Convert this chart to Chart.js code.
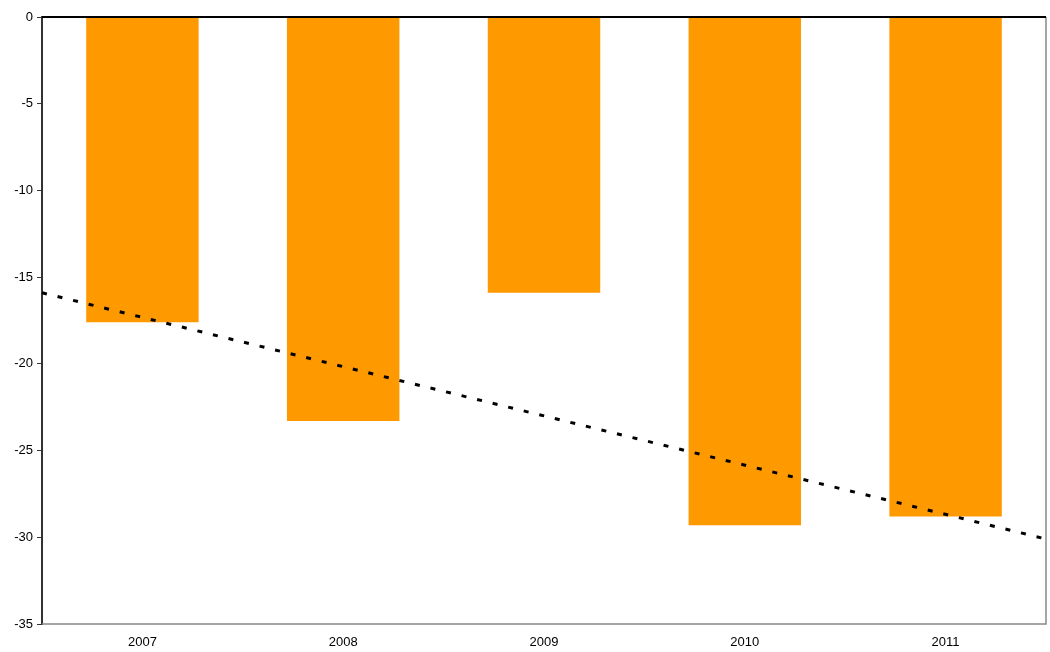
<!DOCTYPE html>
<html>
<head>
<meta charset="utf-8">
<script src="https://cdn.jsdelivr.net/npm/chart.js@4/dist/chart.umd.min.js"></script>
<style>
  html, body { margin: 0; padding: 0; background: #fff; }
  #wrap { width: 1050px; height: 652px; }
</style>
</head>
<body>
<div id="wrap"><canvas id="chart"></canvas></div>
<script>
// values
var years = ['2007', '2008', '2009', '2010', '2011'];
var values = [-17.6, -23.3, -15.9, -29.3, -28.8];
// trend line end points (left edge, right edge of the plot)
var trendX = [0.5, 5.5];
var trendY = [-15.9, -30.1];

// draws the plot frame: black zero line on top, grey right/bottom edges
var framePlugin = {
    id: 'frame',
    afterDraw: function(chart) {
        var a = chart.chartArea;
        var ctx = chart.ctx;
        ctx.save();
        ctx.strokeStyle = '#888';
        ctx.lineWidth = 1.5;
        ctx.beginPath();
        ctx.moveTo(a.right, a.top);
        ctx.lineTo(a.right, a.bottom);
        ctx.lineTo(a.left, a.bottom);
        ctx.stroke();
        ctx.strokeStyle = '#000';
        ctx.lineWidth = 2;
        ctx.beginPath();
        ctx.moveTo(a.left, a.top);
        ctx.lineTo(a.right, a.top);
        ctx.stroke();
        ctx.restore();
    }
};

document.addEventListener("DOMContentLoaded", function() {
    var ctx = document.getElementById('chart').getContext('2d');
    var trendData = trendX.map(function(x, i) { return { x: x, y: trendY[i] }; });

    new Chart(ctx, {
        type: 'bar',
        data: {
            labels: years,
            datasets: [{
                type: 'bar',
                data: values,
                backgroundColor: '#FF9900',
                borderWidth: 0,
                grouped: false,
                barPercentage: 0.56,
                categoryPercentage: 1,
                xAxisID: 'x',
                order: 2
            }, {
                type: 'line',
                data: trendData,
                xAxisID: 'xt',
                borderColor: '#000',
                borderWidth: 3,
                borderDash: [5, 11],
                pointRadius: 0,
                fill: false,
                clip: false,
                order: 1
            }]
        },
        options: {
            responsive: true,
            maintainAspectRatio: false,
            animation: false,
            layout: { padding: { top: 17, right: 4, left: 0, bottom: 0 } },
            plugins: {
                legend: { display: false },
                tooltip: { enabled: false }
            },
            scales: {
                x: {
                    type: 'category',
                    offset: true,
                    grid: { display: false },
                    border: { display: false },
                    ticks: { color: '#000', font: { family: 'Liberation Sans, Arial', size: 13 }, padding: 3 },
                    afterFit: function(s) { s.height = 28; }
                },
                xt: {
                    type: 'linear',
                    display: false,
                    offset: false,
                    bounds: 'ticks',
                    min: 0.5,
                    max: 5.5
                },
                y: {
                    min: -35,
                    max: 0,
                    ticks: { stepSize: 5, color: '#000', font: { family: 'Liberation Sans, Arial', size: 13 }, padding: 4 },
                    grid: { drawOnChartArea: false, drawTicks: true, tickLength: 5, color: '#333' },
                    border: { color: '#333', width: 2 },
                    afterFit: function(s) { s.width = 42; }
                }
            }
        },
        plugins: [framePlugin]
    });
});
</script>
</body>
</html>
